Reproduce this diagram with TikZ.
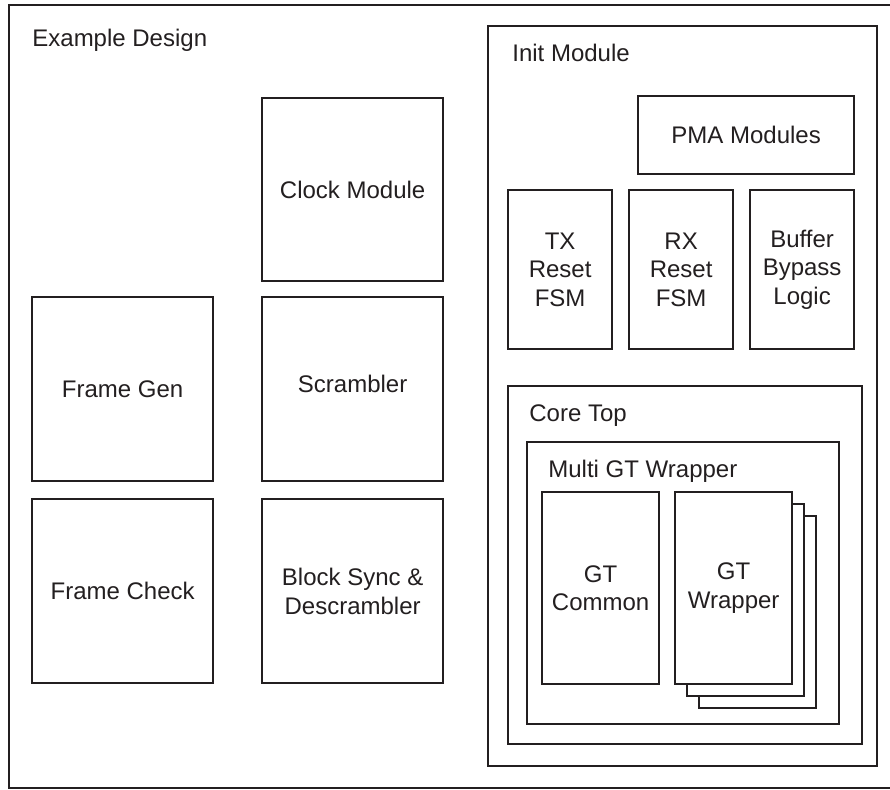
\documentclass[tikz,border=0pt]{standalone}
\usepackage{fontspec}
\setmainfont{Liberation Sans}
\usepackage{xcolor}
\usepackage{tikz}
\usetikzlibrary{positioning}
\definecolor{linegray}{HTML}{231F20}

\tikzset{
    blk/.style={draw=linegray, line width=1.15pt, fill=white, anchor=north west,
        align=center, inner sep=0pt, text=linegray,
        font=\fontsize{12}{14.4}\selectfont},
    grp/.style={blk},
    grplabel/.style={anchor=base west, inner sep=0pt, text=linegray,
        font=\fontsize{12}{14.4}\selectfont}
}

\begin{document}
\begin{tikzpicture}[x=0.5pt, y=-0.5pt]
    \useasboundingbox (0,0) rectangle (890,789);
    % 外框
    \node[grp, minimum width=444pt, minimum height=391.5pt] (design) at (8,4) {};
    \node[grplabel] (designlbl) at (32,46) {Example Design};
    % 左侧模块
    \node[blk, minimum width=90.5pt, minimum height=91.5pt] (clock) at (261,97) {Clock Module};
    \node[blk, minimum width=90.5pt, minimum height=92pt] (framegen) at (31,296) {Frame Gen};
    \node[blk, minimum width=90.5pt, minimum height=92pt] (scrambler) at (261,296) {\raisebox{5pt}{Scrambler}};
    \node[blk, minimum width=90.5pt, minimum height=92pt] (framechk) at (31,498) {Frame Check};
    \node[blk, minimum width=90.5pt, minimum height=92pt] (blocksync) at (261,498) {Block Sync \&\\Descrambler};
    % Init Module
    \node[grp, minimum width=194.5pt, minimum height=370pt] (init) at (487,25) {};
    \node[grplabel] (initlbl) at (512,61) {Init Module};
    \node[blk, minimum width=108pt, minimum height=39pt] (pma) at (637,95) {PMA Modules};
    \foreach \x/\name/\txt in {507/txfsm/TX\\Reset\\FSM, 628/rxfsm/RX\\Reset\\FSM, 749/bufbypass/Buffer\\Bypass\\Logic} {
        \node[blk, minimum width=52pt, minimum height=79.5pt] (\name) at (\x,189) {\txt};
    }
    % Core Top
    \node[grp, minimum width=177pt, minimum height=179pt] (coretop) at (507,385) {};
    \node[grplabel] (corelbl) at (529,421) {Core Top};
    \node[grp, minimum width=156pt, minimum height=141pt] (multigt) at (526,441) {};
    \node[grplabel] (multilbl) at (548,477) {Multi GT Wrapper};
    \node[blk, minimum width=58.5pt, minimum height=96pt] (gtcommon) at (541,491) {GT\\Common};
    % GT Wrapper 叠层
    \foreach \d in {24,12} {
        \node[blk, minimum width=58.5pt, minimum height=96pt] (gtwrap\d) at (674+\d,491+\d) {};
    }
    \node[blk, minimum width=58.5pt, minimum height=96pt] (gtwrap) at (674,491) {GT\\Wrapper};
\end{tikzpicture}
\end{document}
